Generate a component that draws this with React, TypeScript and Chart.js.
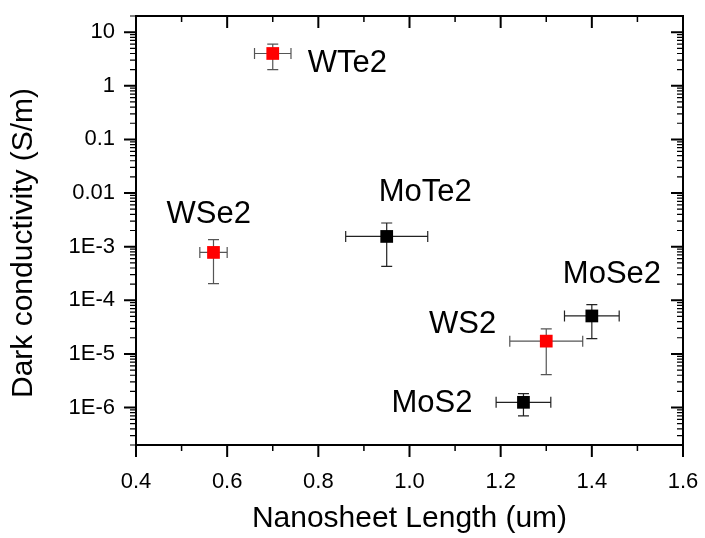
import React, { useEffect, useRef } from 'react';
import { Chart, registerables } from 'chart.js';

Chart.register(...registerables);

// ---- data ----
const materials = ['WTe2', 'MoTe2', 'WSe2', 'MoSe2', 'WS2', 'MoS2'];
const lengths = [0.70, 0.95, 0.57, 1.40, 1.30, 1.25];
const lengthErr = [0.04, 0.09, 0.03, 0.06, 0.08, 0.06];
const conductivity = [4.0, 1.55e-3, 7.8e-4, 5.1e-5, 1.73e-5, 1.25e-6];
const condUpper = [6.0, 2.76e-3, 1.35e-3, 8.3e-5, 2.93e-5, 1.82e-6];
const condLower = [2.0, 4.3e-4, 2.04e-4, 1.93e-5, 4.1e-6, 7.0e-7];
const isTungsten = [true, false, true, false, true, false];

const xTickValues = [0.4, 0.6, 0.8, 1.0, 1.2, 1.4, 1.6];
const xTickLabels = ['0.4', '0.6', '0.8', '1.0', '1.2', '1.4', '1.6'];
const xMinorValues = [0.5, 0.7, 0.9, 1.1, 1.3, 1.5];
const yTickValues = [1e-6, 1e-5, 1e-4, 1e-3, 0.01, 0.1, 1, 10];
const yTickLabels = ['1E-6', '1E-5', '1E-4', '1E-3', '0.01', '0.1', '1', '10'];

const X_MIN = 0.4;
const X_MAX = 1.6;
const Y_MIN = 2e-7;
const Y_MAX = 20;

// label placement relative to each marker (pixels): [dx, dy, align]
const labelOffsets: [number, number, CanvasTextAlign][] = [
  [35, 19, 'left'],
  [-8, -35, 'left'],
  [-47, -29, 'left'],
  [-29, -33, 'left'],
  [-50, -8, 'right'],
  [-51, 10, 'right'],
];

const FONT = '"Liberation Sans", Arial, sans-serif';

const yMinorValues: number[] = [];
for (let e = -7; e <= 1; e++) {
  for (let m = 2; m <= 9; m++) {
    const v = m * Math.pow(10, e);
    if (v >= Y_MIN * 0.999 && v <= Y_MAX * 1.001) yMinorValues.push(v);
  }
}

const zeroPadding = (s: any) => {
  s.paddingLeft = 0;
  s.paddingRight = 0;
  s.paddingTop = 0;
  s.paddingBottom = 0;
};

const decorPlugin = {
  id: 'decor',
  beforeDatasetsDraw(chart: any) {
    const { ctx, scales } = chart;
    const xs = scales.x;
    const ys = scales.y;
    const cap = 5.5;
    ctx.save();
    ctx.lineWidth = 1.2;
    for (let i = 0; i < materials.length; i++) {
      ctx.strokeStyle = isTungsten[i] ? '#555' : '#222';
      const px = xs.getPixelForValue(lengths[i]);
      const py = ys.getPixelForValue(conductivity[i]);
      const x0 = xs.getPixelForValue(lengths[i] - lengthErr[i]);
      const x1 = xs.getPixelForValue(lengths[i] + lengthErr[i]);
      const yTop = ys.getPixelForValue(condUpper[i]);
      const yBot = ys.getPixelForValue(condLower[i]);
      ctx.beginPath();
      ctx.moveTo(x0, py); ctx.lineTo(x1, py);
      ctx.moveTo(x0, py - cap); ctx.lineTo(x0, py + cap);
      ctx.moveTo(x1, py - cap); ctx.lineTo(x1, py + cap);
      ctx.moveTo(px, yTop); ctx.lineTo(px, yBot);
      ctx.moveTo(px - cap, yTop); ctx.lineTo(px + cap, yTop);
      ctx.moveTo(px - cap, yBot); ctx.lineTo(px + cap, yBot);
      ctx.stroke();
    }
    ctx.restore();
  },
  afterDatasetsDraw(chart: any) {
    const { ctx, scales } = chart;
    const xs = scales.x;
    const ys = scales.y;
    ctx.save();
    ctx.fillStyle = '#000';
    ctx.font = `31px ${FONT}`;
    ctx.textBaseline = 'alphabetic';
    for (let i = 0; i < materials.length; i++) {
      const px = xs.getPixelForValue(lengths[i]);
      const py = ys.getPixelForValue(conductivity[i]);
      const [dx, dy, align] = labelOffsets[i];
      ctx.textAlign = align;
      ctx.fillText(materials[i], px + dx, py + dy);
    }
    ctx.restore();
  },
  afterDraw(chart: any) {
    const { ctx, chartArea, scales } = chart;
    const { left, right, top, bottom } = chartArea;
    const xs = scales.x;
    const ys = scales.y;
    const major = 12;
    const minor = 6;
    ctx.save();
    ctx.strokeStyle = '#000';
    const drawX = (v: number, len: number, w: number) => {
      const p = xs.getPixelForValue(v);
      ctx.lineWidth = w;
      ctx.beginPath();
      ctx.moveTo(p, bottom); ctx.lineTo(p, bottom + len);
      ctx.moveTo(p, top); ctx.lineTo(p, top + len);
      ctx.stroke();
    };
    const drawY = (v: number, len: number, w: number) => {
      const p = ys.getPixelForValue(v);
      ctx.lineWidth = w;
      ctx.beginPath();
      ctx.moveTo(left - len, p); ctx.lineTo(left, p);
      ctx.moveTo(right, p); ctx.lineTo(right - len, p);
      ctx.stroke();
    };
    xTickValues.forEach((v) => drawX(v, major, 2));
    xMinorValues.forEach((v) => drawX(v, minor, 1.5));
    yTickValues.forEach((v) => drawY(v, major, 2));
    yMinorValues.forEach((v) => drawY(v, minor, 1.2));
    ctx.lineWidth = 2;
    ctx.strokeRect(left, top, right - left, bottom - top);
    ctx.restore();
  },
};

export default function App() {
  const canvasRef = useRef<HTMLCanvasElement | null>(null);

  useEffect(() => {
    document.body.style.margin = '0';
    const canvas = canvasRef.current;
    if (!canvas) return;
    Chart.defaults.font.family = FONT;
    Chart.defaults.color = '#000';

    const chart = new Chart(canvas, {
      type: 'scatter',
      data: {
        datasets: [
          {
            label: 'Dark conductivity',
            data: lengths.map((x, i) => ({ x, y: conductivity[i] })),
            pointStyle: 'rect',
            pointRadius: 9,
            pointHoverRadius: 9,
            pointBorderWidth: 0,
            pointBackgroundColor: isTungsten.map((w) => (w ? '#ff0000' : '#000000')),
            pointBorderColor: isTungsten.map((w) => (w ? '#ff0000' : '#000000')),
            showLine: false,
          },
        ],
      },
      options: {
        animation: false,
        responsive: true,
        maintainAspectRatio: false,
        events: [],
        layout: { padding: { left: 0, top: 16, right: 22, bottom: 0 } },
        plugins: {
          legend: { display: false },
          tooltip: { enabled: false },
        },
        scales: {
          x: {
            type: 'linear',
            position: 'bottom',
            min: X_MIN,
            max: X_MAX,
            grid: { display: false, drawTicks: false },
            border: { display: false },
            afterBuildTicks: (s: any) => {
              s.ticks = xTickValues.map((v) => ({ value: v }));
            },
            afterFit: (s: any) => {
              s.height = 93;
              zeroPadding(s);
            },
            ticks: {
              autoSkip: false,
              maxRotation: 0,
              padding: 24,
              font: { size: 22 },
              color: '#000',
              callback: (_v: any, i: number) => xTickLabels[i],
            },
            title: {
              display: true,
              text: 'Nanosheet Length (um)',
              font: { size: 30 },
              color: '#000',
              padding: { top: 0, bottom: 1 },
            },
          },
          y: {
            type: 'logarithmic',
            position: 'left',
            min: Y_MIN,
            max: Y_MAX,
            grid: { display: false, drawTicks: false },
            border: { display: false },
            afterBuildTicks: (s: any) => {
              s.ticks = yTickValues.map((v) => ({ value: v }));
            },
            afterFit: (s: any) => {
              s.width = 136;
              zeroPadding(s);
            },
            ticks: {
              autoSkip: false,
              padding: 21,
              font: { size: 22 },
              color: '#000',
              callback: (_v: any, i: number) => yTickLabels[i],
            },
            title: {
              display: true,
              text: 'Dark conductivity (S/m)   ',
              font: { size: 30 },
              color: '#000',
              padding: { top: 6, bottom: 0 },
            },
          },
        },
      },
      plugins: [decorPlugin],
    });

    return () => {
      chart.destroy();
    };
  }, []);

  return (
    <div style={{ position: 'relative', width: 705, height: 538 }}>
      <canvas ref={canvasRef} />
    </div>
  );
}
